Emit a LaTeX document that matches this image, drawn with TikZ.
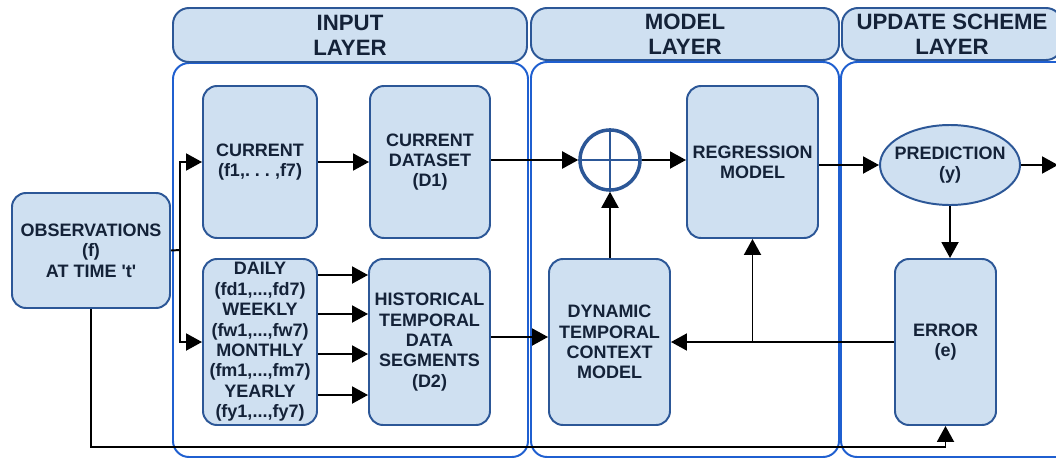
\documentclass[tikz,border=0pt]{standalone}
\usepackage{fontspec}
\setmainfont{Liberation Sans}
\usetikzlibrary{arrows.meta,shapes.geometric}
\definecolor{boxfill}{HTML}{CFE0F1}
\definecolor{boxline}{HTML}{2C5797}
\definecolor{layerline}{HTML}{1F5FD0}
\definecolor{labeltext}{HTML}{142238}

\begin{document}
\begin{tikzpicture}[x=0.25mm,y=-0.25mm]
\tikzstyle{every node}+=[font=\fontsize{12.8}{14.5}\selectfont\bfseries, text=labeltext, align=center, inner sep=0pt]
\tikzstyle{block}=[draw=boxline, fill=boxfill, line width=1.4pt, rounded corners=3.5mm]
\tikzstyle{header}=[block, font=\fontsize{15.8}{17.8}\selectfont\bfseries, rounded corners=4mm]
\tikzstyle{layer}=[draw=layerline, line width=1.4pt, rounded corners=4mm]
\tikzstyle{flow}=[draw=black, line width=1.4pt, -{Triangle[length=4mm,width=4.25mm]}]
\tikzstyle{wire}=[draw=black, line width=1.4pt]

\clip (0,0) rectangle (1056,459);

% layers
\draw[layer] (173,63) rectangle (528,457);
\draw[layer] (531,62) rectangle (839,457);
\draw[layer] (841,62) rectangle (1080,457);

\node[header, minimum width=88.5mm, minimum height=13.5mm] (inhdr) at (350,35) {INPUT\\LAYER};
\node[header, minimum width=77mm, minimum height=13mm] (modhdr) at (685,34) {MODEL\\LAYER};
\node[header, minimum width=55mm, minimum height=13mm] (updhdr) at (952,34) {UPDATE SCHEME\\LAYER};

% blocks
\node[block, minimum width=39.5mm, minimum height=28.75mm] (obs) at (91,250.5) {OBSERVATIONS\\(f)\\AT TIME \textquotesingle t\textquotesingle};
\node[block, minimum width=28.5mm, minimum height=38mm] (cur) at (260,162) {CURRENT\\(f1,.\ .\ .\ ,f7)};
\node[block, minimum width=30mm, minimum height=38mm] (curdata) at (430,162) {CURRENT\\DATASET\\(D1)};
\node[block, minimum width=28.5mm, minimum height=41.5mm] (daily) at (260,342) {DAILY\\(fd1,...,fd7)\\WEEKLY\\(fw1,...,fw7)\\MONTHLY\\(fm1,...,fm7)\\YEARLY\\(fy1,...,fy7)};
\node[block, minimum width=30.25mm, minimum height=41.5mm] (hist) at (429.5,342) {HISTORICAL\\TEMPORAL\\DATA\\SEGMENTS\\(D2)};
\node[block, minimum width=30.25mm, minimum height=41.5mm] (dyn) at (609.5,342) {DYNAMIC\\TEMPORAL\\CONTEXT\\MODEL};
\node[block, minimum width=32.75mm, minimum height=38mm] (regmodel) at (752.5,162) {REGRESSION\\MODEL};
\node[block, minimum width=25.25mm, minimum height=41.5mm] (err) at (945.5,342) {ERROR\\(e)};
\node[block, ellipse, inner xsep=-1.5mm, minimum width=35mm, minimum height=20mm] (pred) at (950,165) {PREDICTION\\(y)};
\node[draw=boxline, fill=white, circle, line width=2.5pt, minimum size=15mm] (sum) at (610,160) {};
\draw[boxline, line width=1.4pt] (sum.north) -- (sum.south) (sum.west) -- (sum.east);

% connectors
\coordinate (split) at (180,250);
\coordinate (exit) at (1058,165);
\draw[wire] (obs.east) -- (split);
\draw[flow] (split) |- (cur.west);
\draw[flow] (split) |- (daily.west);
\draw[flow] (cur) -- (curdata);
\draw[flow] (curdata.east |- sum.west) -- (sum.west);
\draw[flow] (sum.east) -- (regmodel.west |- sum.east);
\draw[flow] (pred.west -| regmodel.east) -- (pred.west);
\draw[flow] (pred.east) -- (exit);
\draw[flow] (pred.south) -- (err.north -| pred.south);
\foreach \yy in {275,314,354,395}
  \draw[flow] (daily.east |- 0,\yy) -- (hist.west |- 0,\yy);
\draw[flow] ([yshift=1.25mm]hist.east) -- ([yshift=1.25mm]dyn.west);
\draw[flow] (sum.south |- dyn.north) -- (sum.south);
\coordinate (fb) at (regmodel.south |- err.west);
\draw[flow] (err.west) -- (dyn.east);
\draw[flow] (fb) -- (regmodel.south);
\draw[flow] (obs.south) -- (obs.south |- 0,447) -| (err.south);
\end{tikzpicture}
\end{document}
